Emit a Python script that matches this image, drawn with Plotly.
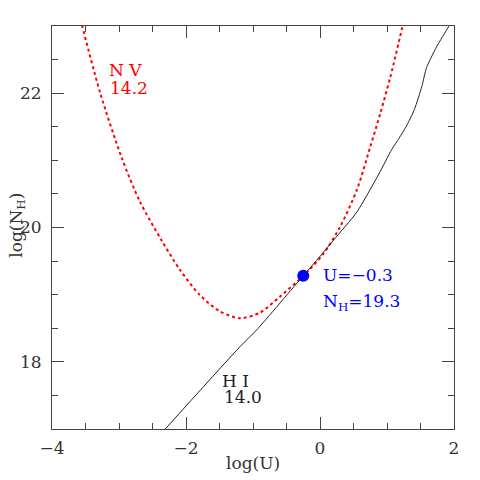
import plotly.graph_objects as go

# N V column density curve (log U vs log N_H)
nv_logU = [-3.60, -3.55, -3.28, -2.96, -2.69, -2.36, -2.09, -1.79, -1.49, -1.19, -0.90,
           -0.60, -0.25, 0.05, 0.30, 0.55, 0.75, 0.90, 1.05, 1.23, 1.26]
nv_logN = [23.18, 23.00, 22.00, 21.04, 20.39, 19.80, 19.37, 18.99, 18.75, 18.65, 18.73,
           18.97, 19.28, 19.61, 20.01, 20.56, 21.20, 21.70, 22.24, 22.99, 23.12]

# H I curve
hi_logU = [-2.40, -1.19, -0.95, -0.25, -0.05, 0.20, 0.55, 0.88, 1.07, 1.18, 1.29,
           1.41, 1.52, 1.59, 1.74, 1.92, 1.97]
hi_logN = [16.90, 18.23, 18.47, 19.28, 19.51, 19.81, 20.23, 20.80, 21.16, 21.33, 21.51,
           21.76, 22.10, 22.38, 22.69, 22.99, 23.08]

# solution point
sol_logU = [-0.25]
sol_logN = [19.28]

serif = "DejaVu Serif"

fig = go.Figure()
fig.add_trace(go.Scatter(x=nv_logU, y=nv_logN, mode="lines",
                         line=dict(color="red", width=2, dash="dot", shape="spline", smoothing=0.8),
                         showlegend=False))
fig.add_trace(go.Scatter(x=hi_logU, y=hi_logN, mode="lines",
                         line=dict(color="#222", width=1, shape="spline", smoothing=0.6),
                         showlegend=False))
fig.add_trace(go.Scatter(x=sol_logU, y=sol_logN, mode="markers",
                         marker=dict(color="blue", size=12, symbol="circle"), showlegend=False))

axis_common = dict(
    showgrid=False, zeroline=False, showline=True, linecolor="#444", linewidth=1,
    ticks="inside", ticklen=12, tickcolor="#444", mirror="allticks",
    minor=dict(dtick=0.5, ticks="inside", ticklen=6, tickcolor="#444"),
    tickfont=dict(family=serif, size=17, color="#333"),
)
fig.update_xaxes(range=[-4, 2], dtick=2, ticklabelstandoff=4, **axis_common)
fig.update_yaxes(range=[17, 23], dtick=2, ticklabelstandoff=6, **axis_common)


def label(x, y, text, color):
    fig.add_annotation(x=x, y=y, text=text, showarrow=False, xanchor="left", yanchor="middle",
                       font=dict(family=serif, size=17, color=color))


label(-3.18, 22.34, "N V", "red")
label(-3.17, 22.07, "14.2", "red")
label(-1.49, 17.72, "H I", "#222")
label(-1.47, 17.47, "14.0", "#222")
label(0.02, 19.29, "U=\u22120.3", "blue")
label(0.02, 18.88, "N<sub>H</sub>=19.3", "blue")

fig.add_annotation(xref="paper", yref="paper", x=0.5, y=-0.085, text="log(U)", showarrow=False,
                   xanchor="center", yanchor="middle", font=dict(family=serif, size=17, color="#333"))
fig.add_annotation(xref="paper", yref="paper", x=-0.088, y=0.506, text="log(N<sub>H</sub>)",
                   showarrow=False, textangle=-90, xanchor="center", yanchor="middle",
                   font=dict(family=serif, size=17, color="#333"))

# the page body adds an 8px offset, so the figure is a bit smaller than the window
fig.update_layout(width=472, height=472, margin=dict(l=44, r=26, t=18, b=51),
                  paper_bgcolor="white", plot_bgcolor="white")

fig.write_html("out.html")
